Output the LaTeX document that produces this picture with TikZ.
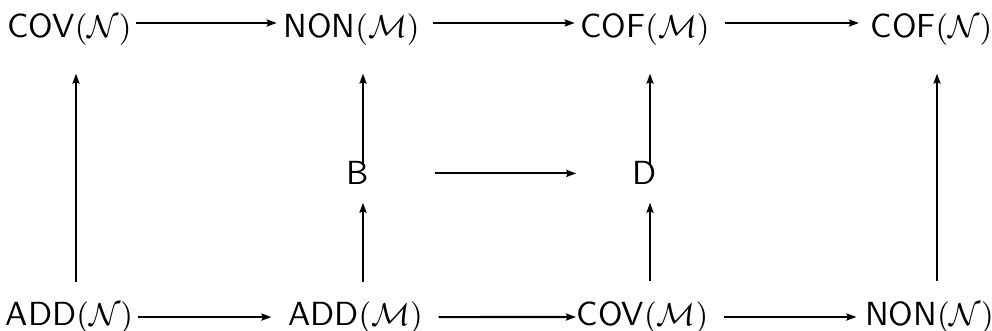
\documentclass[tikz,border=0pt]{standalone}
\usetikzlibrary{arrows.meta}

\tikzset{
    card/.style={inner sep=0pt, anchor=base, font=\fontsize{9.5}{11}\selectfont\sffamily},
    imp/.style={-{Stealth[length=1mm, width=0.7mm, inset=0.15mm]}, line width=0.6pt},
}

\begin{document}
\begin{tikzpicture}[x=0.01cm, y=-0.01cm]
    \useasboundingbox (0,0) rectangle (992,331);

    % columns of the vertical arrows
    \coordinate (c1) at (76,0);
    \coordinate (c2) at (363,0);
    \coordinate (c3) at (650,0);
    \coordinate (c4) at (937,0);

    % top row
    \node[card] (covN) at (69.5,38) {COV$(\mathcal{N})$};
    \node[card] (nonM) at (351.5,38) {NON$(\mathcal{M})$};
    \node[card] (cofM) at (645,38) {COF$(\mathcal{M})$};
    \node[card] (cofN) at (931.5,38) {COF$(\mathcal{N})$};

    % middle row
    \node[card] (B) at (357.5,185) {B};
    \node[card] (D) at (645,185) {D};

    % bottom row
    \node[card] (addN) at (69.5,325) {ADD$(\mathcal{N})$};
    \node[card] (addM) at (355.5,325) {ADD$(\mathcal{M})$};
    \node[card] (covM) at (642.5,325) {COV$(\mathcal{M})$};
    \node[card] (nonN) at (929.5,325) {NON$(\mathcal{N})$};

    % horizontal arrows
    \foreach \a/\b/\s/\e in {covN/nonM/0.04/0.06, nonM/cofM/0.13/0.05, cofM/cofN/0.15/0.11}
        \draw[imp, shorten <=\s cm, shorten >=\e cm, transform canvas={yshift=0.07cm}] (\a.east) -- (\b.west);
    \foreach \a/\b/\s/\e in {addN/addM/0.04/0.16, addM/covM/0.15/0.00, covM/nonN/0.15/0.08, B/D/0.66/0.56}
        \draw[imp, shorten <=\s cm, shorten >=\e cm] (\a.east) -- (\b.west);

    % vertical arrows
    \foreach \lo/\hi/\c in {addN/covN/c1, nonN/cofN/c4}
        \draw[imp, shorten <=0.19cm, shorten >=0.27cm] (\lo.north -| \c) -- (\hi.south -| \c);
    \foreach \lo/\m/\hi/\c in {addM/B/nonM/c2, covM/D/cofM/c3} {
        \draw[imp, shorten <=0.19cm, shorten >=0.17cm] (\lo.north -| \c) -- (\m.south -| \c);
        \draw[imp, shorten <=-0.04cm, shorten >=0.27cm] (\m.north -| \c) -- (\hi.south -| \c);
    }
\end{tikzpicture}
\end{document}
